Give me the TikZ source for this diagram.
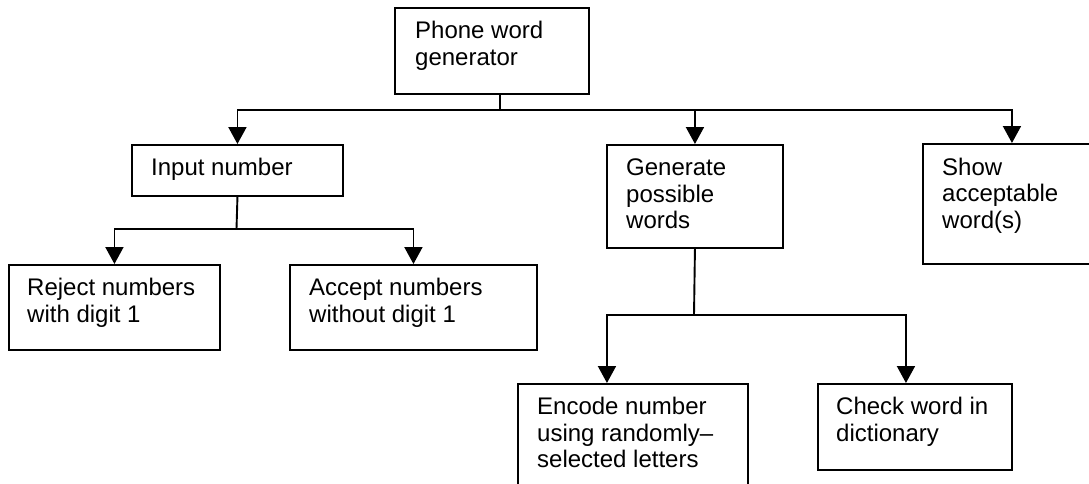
\documentclass[tikz,border=0pt]{standalone}
\usepackage{fontspec}
\setmainfont{Liberation Sans}
\usetikzlibrary{arrows.meta}
\tikzset{
  boxst/.style={draw=black, line width=1.9pt, rectangle, inner sep=0pt, anchor=north west},
  txt/.style={anchor=base west, inner sep=0pt, font=\fontsize{24}{26.7}\selectfont},
  conn/.style={draw=black, line width=1.9pt},
  arr/.style={conn, -{Triangle[length=17pt,width=18pt]}}
}
\newcommand{\twolines}[1]{\vtop{\baselineskip=26.7pt #1}}
\begin{document}
\begin{tikzpicture}[x=1pt,y=-1pt]
\useasboundingbox (0,0) rectangle (1089,483);
\fill[white] (0,0) rectangle (1089,483);
\clip (0,0) rectangle (1089,483);
% boxes
\node[boxst, minimum width=194pt, minimum height=86pt] (top) at (394,7) {};
\node[boxst, minimum width=211pt, minimum height=51pt] (input) at (131,144) {};
\node[boxst, minimum width=176pt, minimum height=103pt] (gen) at (606,144) {};
\node[boxst, minimum width=178pt, minimum height=120pt] (show) at (922,143) {};
\node[boxst, minimum width=211pt, minimum height=85pt] (reject) at (8,264) {};
\node[boxst, minimum width=247pt, minimum height=85pt] (accept) at (289,264) {};
\node[boxst, minimum width=230pt, minimum height=130pt] (encode) at (517,383) {};
\node[boxst, minimum width=194pt, minimum height=86pt] (check) at (817,383) {};
% texts
\node[txt] (topt) at (415,38.5) {\twolines{\hbox{Phone word}\hbox{generator}}};
\node[txt] (inputt) at (151,175.5) {\twolines{\hbox{Input number}}};
\node[txt] (gent) at (626,175.5) {\twolines{\hbox{Generate}\hbox{possible}\hbox{words}}};
\node[txt] (showt) at (942,175) {\twolines{\hbox{Show}\hbox{acceptable}\hbox{word(s)}}};
\node[txt] (rejectt) at (27,295.5) {\twolines{\hbox{Reject numbers}\hbox{with digit 1}}};
\node[txt] (acceptt) at (309,295.5) {\twolines{\hbox{Accept numbers}\hbox{without digit 1}}};
\node[txt] (encodet) at (537,414.5) {\twolines{\hbox{Encode number}\hbox{using randomly–}\hbox{selected letters}}};
\node[txt] (checkt) at (836,414.5) {\twolines{\hbox{Check word in}\hbox{dictionary}}};
% connectors
\coordinate (j1) at (500,110);
\coordinate (j2) at (236.5,229);
\coordinate (j3) at (694,315);
\draw[conn] (top.south -| j1) -- (j1);
\draw[arr] (j1) -| (input.north);
\draw[arr] (j1) -| (gen.north);
\draw[arr] (j1) -| (show.north);
\draw[conn] (input.south) -- (j2);
\draw[arr] (j2) -| (reject.north);
\draw[arr] (j2) -| (accept.north);
\draw[conn] (gen.south) -- (j3);
\draw[arr] (j3) -| ([xshift=-26pt]encode.north);
\draw[arr] (j3) -| ([xshift=-9pt]check.north);
\end{tikzpicture}
\end{document}
